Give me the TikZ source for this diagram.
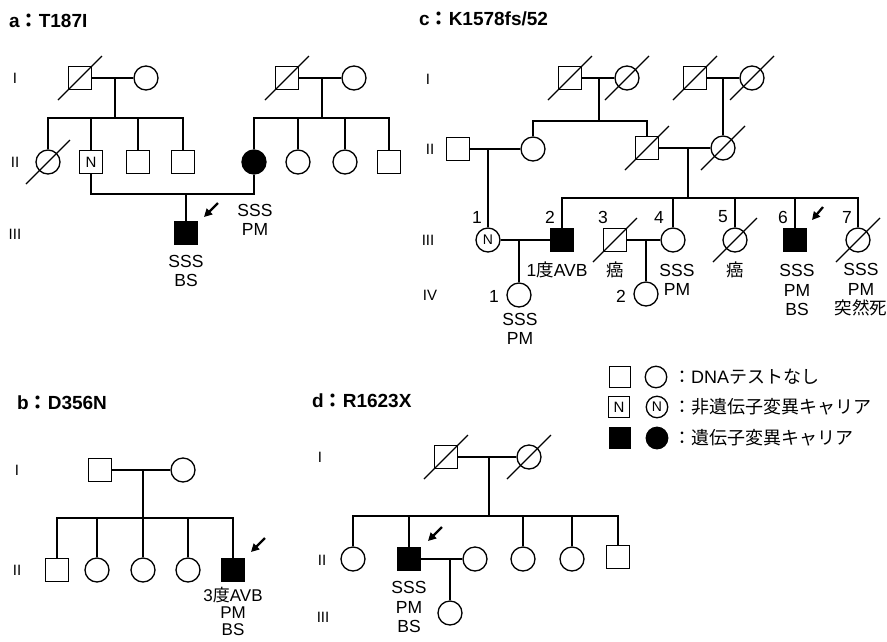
\documentclass[tikz,border=0pt]{standalone}
\usepackage{fontspec}
\setmainfont{Liberation Sans}
\newfontfamily\jp{Noto Sans CJK JP}
\usetikzlibrary{arrows.meta}
\tikzset{
  sym/.style={draw, line width=1.3pt, inner sep=0pt, font=\fontsize{15}{15}\selectfont},
  male/.style={sym, rectangle, minimum size=23.5pt},
  female/.style={sym, circle, minimum size=24pt},
  aff/.style={fill=black},
  lmale/.style={sym, rectangle, minimum size=21pt},
  lfemale/.style={sym, circle, minimum size=21.5pt},
  conn/.style={line width=1.3pt},
  slashline/.style={line width=1.2pt},
  proband/.style={line width=2.3pt, -{Triangle[length=8pt,width=8pt]}},
  lab/.style={font=\fontsize{17.5}{19.5}\selectfont, align=center, inner sep=0pt},
  gen/.style={font=\fontsize{15}{15}\selectfont, inner sep=0pt},
  title/.style={font=\fontsize{19}{20}\selectfont\bfseries, anchor=west, inner sep=0pt},
  legtext/.style={font=\fontsize{18}{20}\selectfont, anchor=west, inner sep=0pt},
}
\newcommand\jpt[1]{{\jp #1}}
\begin{document}
\begin{tikzpicture}[x=1pt,y=-1pt]
\useasboundingbox (0,0) rectangle (887,641);

% ===== Panel a =====
\node[title] (ta) at (9,21) {a\jpt{：}T187I};
\node[gen] (ga1) at (15,78) {I};
\node[gen] (ga2) at (15,162) {II};
\node[gen] (ga3) at (15,234) {III};
\node[male] (a1) at (80,78) {};
\node[female] (a2) at (146,78) {};
\node[male] (a3) at (287,78) {};
\node[female] (a4) at (354,78) {};
\node[female] (a5) at (48,162) {};
\node[male] (a6) at (91,162) {N};
\node[male] (a7) at (138,162) {};
\node[male] (a8) at (183,162) {};
\node[female,aff] (a9) at (254,162) {};
\node[female] (a10) at (298,162) {};
\node[female] (a11) at (345,162) {};
\node[male] (a12) at (389,162) {};
\node[male,aff] (a13) at (186,233) {};
\coordinate (ma1) at (115,78);
\coordinate (sa1) at (115,118);
\coordinate (ma2) at (322,78);
\coordinate (sa2) at (322,118);
\coordinate (ma3) at (186,194);
\draw[conn] (a1) -- (a2);
\draw[conn] (ma1) -- (sa1);
\foreach \n in {a5,a6,a7,a8} \draw[conn] (\n.north) |- (sa1);
\draw[conn] (a3) -- (a4);
\draw[conn] (ma2) -- (sa2);
\foreach \n in {a9,a10,a11,a12} \draw[conn] (\n.north) |- (sa2);
\draw[conn] (a6.south) |- (ma3) -| (a9.south);
\draw[conn] (ma3) -- (a13.north);
\coordinate (pa1) at (218,203);
\coordinate (pa2) at (204,217);
\draw[proband] (pa1) -- (pa2);
\node[lab] (la9) at (255,220) {SSS\\PM};
\node[lab] (la13) at (186,271) {SSS\\BS};

% ===== Panel c =====
\node[title] (tc) at (419,19) {c\jpt{：}K1578fs/52};
\node[gen] (gc1) at (428,79) {I};
\node[gen] (gc2) at (430,149) {II};
\node[gen] (gc3) at (428,240) {III};
\node[gen] (gc4) at (430,295) {IV};
\node[male] (c1) at (570,78) {};
\node[female] (c2) at (627,78) {};
\node[male] (c3) at (695,78) {};
\node[female] (c4) at (752,78) {};
\node[male] (c5) at (458,149) {};
\node[female] (c6) at (533,149) {};
\node[male] (c7) at (647,148) {};
\node[female] (c8) at (723,148) {};
\node[female,font=\fontsize{14}{14}\selectfont] (c9) at (488,240) {N};
\node[male,aff] (c10) at (562,240) {};
\node[male] (c11) at (615,240) {};
\node[female] (c12) at (673,240) {};
\node[female] (c13) at (735,240) {};
\node[male,aff] (c14) at (795,240) {};
\node[female] (c15) at (858,240) {};
\node[female] (c16) at (519,295) {};
\node[female] (c17) at (646,294) {};
\coordinate (mc1) at (599,78);
\coordinate (sc1) at (599,121);
\coordinate (mc2) at (723,78);
\coordinate (mc3) at (488,149);
\coordinate (mc4) at (688,148);
\coordinate (sc4) at (688,198);
\coordinate (mc5) at (519,240);
\coordinate (mc6) at (646,240);
\draw[conn] (c1) -- (c2);
\draw[conn] (mc1) -- (sc1);
\foreach \n in {c6,c7} \draw[conn] (\n.north) |- (sc1);
\draw[conn] (c3) -- (c4);
\draw[conn] (mc2) -- (c8.north);
\draw[conn] (c5) -- (c6);
\draw[conn] (mc3) -- (c9.north);
\draw[conn] (c7) -- (c8);
\draw[conn] (mc4) -- (sc4);
\foreach \n in {c10,c12,c13,c14,c15} \draw[conn] (\n.north) |- (sc4);
\draw[conn] (c9) -- (c10);
\draw[conn] (mc5) -- (c16.north);
\draw[conn] (c11) -- (c12);
\draw[conn] (mc6) -- (c17.north);
\node[lab] (n1) at (477,217) {1};
\node[lab] (n2) at (550,217) {2};
\node[lab] (n3) at (603,217) {3};
\node[lab] (n4) at (659,217) {4};
\node[lab] (n5) at (723,217) {5};
\node[lab] (n6) at (783,217) {6};
\node[lab] (n7) at (847,217) {7};
\node[lab] (n8) at (494,296) {1};
\node[lab] (n9) at (621,296) {2};
\coordinate (pc1) at (823,207);
\coordinate (pc2) at (812,220);
\draw[proband] (pc1) -- (pc2);
\node[lab] (lc10) at (557,270) {1\jpt{度}AVB};
\node[lab] (lc11) at (615,270) {\jpt{癌}};
\node[lab] (lc12) at (677,280) {SSS\\PM};
\node[lab] (lc13) at (735,270) {\jpt{癌}};
\node[lab] (lc14) at (797,290) {SSS\\PM\\BS};
\node[lab] (lc15) at (861,290) {SSS\\PM\\\jpt{突然死}};
\node[lab] (lc16) at (520,329) {SSS\\PM};

% ===== Panel b =====
\node[title] (tb) at (17,403) {b\jpt{：}D356N};
\node[gen] (gb1) at (17,470) {I};
\node[gen] (gb2) at (17,570) {II};
\node[male] (b1) at (100,470) {};
\node[female] (b2) at (183,470) {};
\node[male] (b3) at (57,570) {};
\node[female] (b4) at (97,570) {};
\node[female] (b5) at (143,570) {};
\node[female] (b6) at (188,570) {};
\node[male,aff] (b7) at (233,570) {};
\coordinate (mb) at (143,470);
\coordinate (sb) at (143,518);
\draw[conn] (b1) -- (b2);
\draw[conn] (mb) -- (sb);
\foreach \n in {b3,b4,b5,b6,b7} \draw[conn] (\n.north) |- (sb);
\coordinate (pb1) at (265,538);
\coordinate (pb2) at (251,552);
\draw[proband] (pb1) -- (pb2);
\node[lab,font=\fontsize{17}{17}\selectfont] (lb7) at (233,611) {3\jpt{度}AVB\\PM\\BS};

% ===== Panel d =====
\node[title] (td) at (312,401) {d\jpt{：}R1623X};
\node[gen] (gd1) at (320,457) {I};
\node[gen] (gd2) at (322,560) {II};
\node[gen] (gd3) at (323,617) {III};
\node[male] (d1) at (446,457) {};
\node[female] (d2) at (529,457) {};
\node[female] (d3) at (353,559) {};
\node[male,aff] (d4) at (409,559) {};
\node[female] (d5) at (475,559) {};
\node[female] (d6) at (523,559) {};
\node[female] (d7) at (572,559) {};
\node[male] (d8) at (618,557) {};
\node[female] (d9) at (450,613) {};
\coordinate (md) at (489,457);
\coordinate (sd) at (489,516);
\coordinate (mdd) at (450,559);
\draw[conn] (d1) -- (d2);
\draw[conn] (md) -- (sd);
\foreach \n in {d3,d4,d6,d7,d8} \draw[conn] (\n.north) |- (sd);
\draw[conn] (d4) -- (d5);
\draw[conn] (mdd) -- (d9.north);
\coordinate (pd1) at (442,527);
\coordinate (pd2) at (428,541);
\draw[proband] (pd1) -- (pd2);
\node[lab] (ld4) at (409,607) {SSS\\PM\\BS};

% ===== deceased slashes =====
\foreach \n in {a1,a3,a5,c1,c2,c3,c4,c7,c8,c11,c13,c15,d1,d2}
  \draw[slashline] ([shift={(-22,22)}]\n.center) -- ([shift={(22,-22)}]\n.center);

% ===== Legend =====
\node[lmale] (L1) at (620,377) {};
\node[lfemale] (L2) at (656,377) {};
\node[lmale] (L3) at (619,407) {N};
\node[lfemale,font=\fontsize{14}{14}\selectfont] (L4) at (657,407) {N};
\node[lmale,aff] (L5) at (620,438) {};
\node[lfemale,aff] (L6) at (657,438) {};
\node[legtext] (LT1) at (673,377) {\jpt{：}DNA\jpt{テストなし}};
\node[legtext] (LT2) at (673,407) {\jpt{：非遺伝子変異キャリア}};
\node[legtext] (LT3) at (673,438) {\jpt{：遺伝子変異キャリア}};
\end{tikzpicture}
\end{document}
